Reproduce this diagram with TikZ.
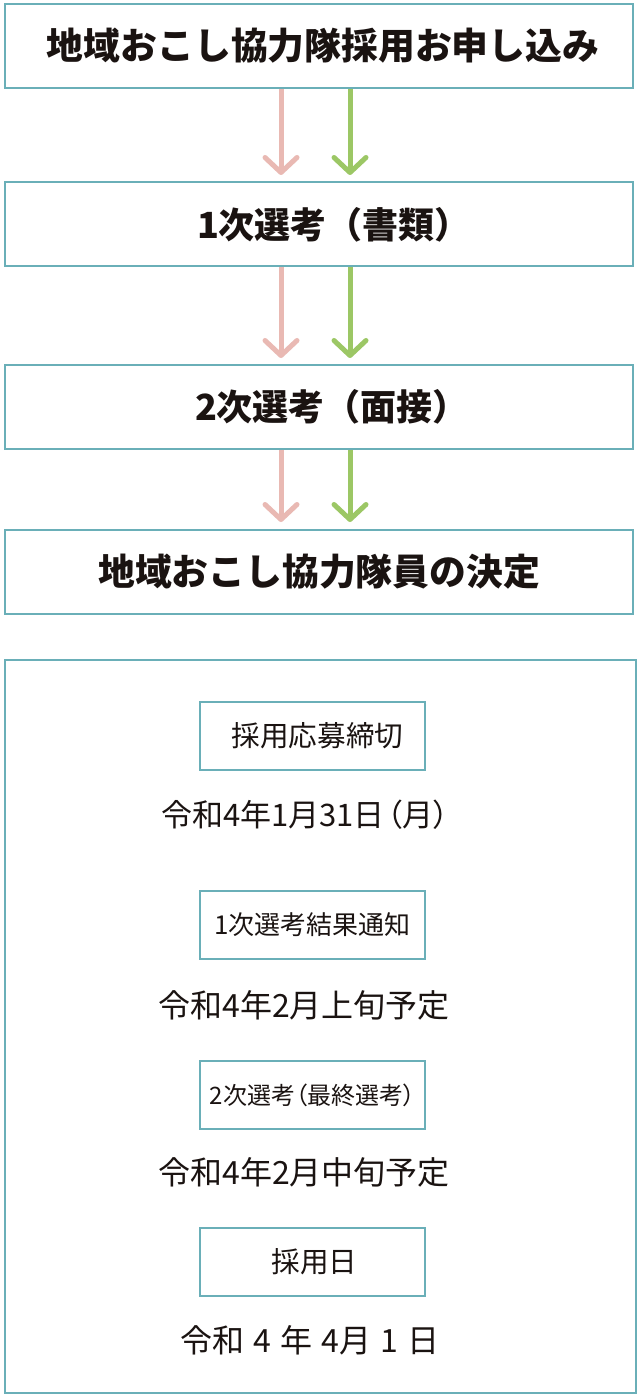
\documentclass[tikz,border=0pt]{standalone}
\usepackage{fontspec}
\setmainfont{Noto Sans CJK JP}
\newfontfamily\jpp{Noto Sans CJK JP}[RawFeature=+palt]
\usetikzlibrary{arrows.meta}
\definecolor{frame}{HTML}{6AAFB8}
\definecolor{pinkc}{HTML}{E9B9B3}
\definecolor{greenc}{HTML}{9CC765}
\definecolor{ink}{HTML}{1A1311}
\begin{document}
\begin{tikzpicture}[x=0.5pt,y=-0.5pt,
  stagebox/.style={draw=frame, line width=1pt, minimum width=314pt, minimum height=42pt, inner sep=0pt,
    font=\fontsize{18.4}{20}\selectfont\bfseries, text=ink},
  smallbox/.style={draw=frame, line width=1pt, minimum width=112.5pt, minimum height=34pt, inner sep=0pt,
    font=\fontsize{13}{15}\selectfont, text=ink},
  datetext/.style={font=\fontsize{16}{18}\selectfont, text=ink, inner sep=0pt},
  pinkarrow/.style={draw=pinkc, line width=2.5pt, -{Straight Barb[length=7.5pt,width=16pt,round]}},
  greenarrow/.style={draw=greenc, line width=2.5pt, -{Straight Barb[length=7.5pt,width=16pt,round]}}]
\useasboundingbox[fill=white] (0,0) rectangle (640,1400);

\node[stagebox] (s1) at (319,46) {\hspace*{4pt}地域おこし協力隊採用お申し込み};
\node[stagebox, font=\fontsize{18}{20}\selectfont\bfseries] (s2) at (319,224.5) {\hspace*{15pt}1次選考（書類）};
\node[stagebox, font=\fontsize{18}{20}\selectfont\bfseries] (s3) at (319,407) {\hspace*{13pt}2次選考（面接）};
\node[stagebox] (s4) at (319,571.5) {地域おこし協力隊員の決定};

\coordinate (p1) at (281,175); \coordinate (g1) at (350,175);
\coordinate (p2) at (281,358); \coordinate (g2) at (350,358);
\coordinate (p3) at (281,522); \coordinate (g3) at (350,522);

\draw[pinkarrow] (s1.south -| p1) -- (p1);
\draw[greenarrow] (s1.south -| g1) -- (g1);
\draw[pinkarrow] (s2.south -| p2) -- (p2);
\draw[greenarrow] (s2.south -| g2) -- (g2);
\draw[pinkarrow] (s3.south -| p3) -- (p3);
\draw[greenarrow] (s3.south -| g3) -- (g3);

\node[draw=frame, line width=1pt, minimum width=315.5pt, minimum height=366.5pt, inner sep=0pt] (panel) at (320.5,1026.5) {};

\node[smallbox, font=\fontsize{14.3}{16}\selectfont] (b1) at (312.5,736) {\hspace*{5pt}採用応募締切};
\node[datetext, font=\fontsize{15.5}{18}\selectfont\jpp] (d1) at (305,815) {令和4年1月31日\hspace{1pt}（月）};
\node[smallbox] (b2) at (312.5,925) {1次選考結果通知};
\node[datetext] (d2) at (304,1005) {令和4年2月上旬予定};
\node[smallbox, font=\fontsize{12}{14}\selectfont\jpp] (b3) at (312.5,1095) {2次選考（最終選考）};
\node[datetext] (d3) at (304,1172) {令和4年2月中旬予定};
\node[smallbox, font=\fontsize{14.3}{16}\selectfont] (b4) at (312.5,1262) {\hspace*{2pt}採用日};
\node[datetext] (d4) at (310,1340) {\spaceskip=4.5pt 令和 4 年 4月 1 日};
\end{tikzpicture}
\end{document}
